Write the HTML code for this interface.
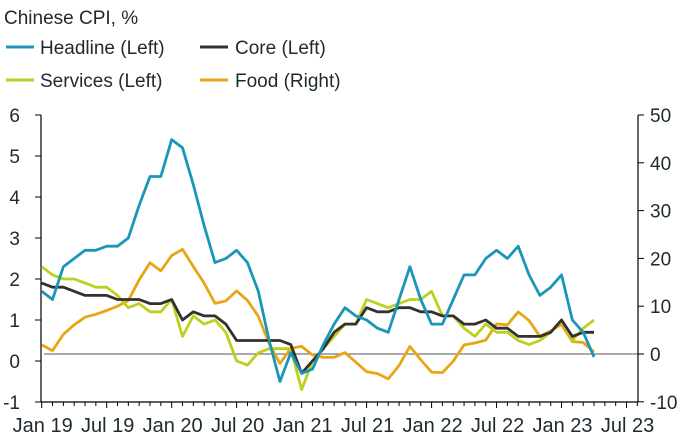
<!DOCTYPE html>
<html><head><meta charset="utf-8"><style>
body{margin:0;background:#fff;font-family:"Liberation Sans",sans-serif;}
svg text{font-family:"Liberation Sans",sans-serif;fill:#1e2a2e;}
</style></head><body>
<svg id="chart" width="691" height="438">
<text x="4" y="24" font-size="19">Chinese CPI, %</text>
<g>
<g><line x1="6" y1="47" x2="34" y2="47" stroke="#1a96b8" stroke-width="3"/><text x="40" y="54" font-size="19">Headline (Left)</text></g>
<g><line x1="200" y1="47" x2="228" y2="47" stroke="#33302e" stroke-width="3"/><text x="235" y="54" font-size="19">Core (Left)</text></g>
<g><line x1="6" y1="80" x2="34" y2="80" stroke="#bfcf1e" stroke-width="3"/><text x="40" y="87" font-size="19">Services (Left)</text></g>
<g><line x1="200" y1="80" x2="228" y2="80" stroke="#e8a614" stroke-width="3"/><text x="235" y="87" font-size="19">Food (Right)</text></g>
</g>
<g id="axes"></g>
<g id="series"></g>
</svg>
<script>
const xLabels=["Jan 19","Jul 19","Jan 20","Jul 20","Jan 21","Jul 21","Jan 22","Jul 22","Jan 23","Jul 23"];
const leftTicks=[6,5,4,3,2,1,0,-1];
const rightTicks=[50,40,30,20,10,0,-10];
const headline=[1.7,1.5,2.3,2.5,2.7,2.7,2.8,2.8,3.0,3.8,4.5,4.5,5.4,5.2,4.3,3.3,2.4,2.5,2.7,2.4,1.7,0.5,-0.5,0.2,-0.3,-0.2,0.4,0.9,1.3,1.1,1.0,0.8,0.7,1.5,2.3,1.5,0.9,0.9,1.5,2.1,2.1,2.5,2.7,2.5,2.8,2.1,1.6,1.8,2.1,1.0,0.7,0.1];
const core=[1.9,1.8,1.8,1.7,1.6,1.6,1.6,1.5,1.5,1.5,1.4,1.4,1.5,1.0,1.2,1.1,1.1,0.9,0.5,0.5,0.5,0.5,0.5,0.4,-0.3,0.0,0.3,0.7,0.9,0.9,1.3,1.2,1.2,1.3,1.3,1.2,1.2,1.1,1.1,0.9,0.9,1.0,0.8,0.8,0.6,0.6,0.6,0.7,1.0,0.6,0.7,0.7];
const services=[2.3,2.1,2.0,2.0,1.9,1.8,1.8,1.6,1.3,1.4,1.2,1.2,1.5,0.6,1.1,0.9,1.0,0.7,0.0,-0.1,0.2,0.3,0.3,0.3,-0.7,0.0,0.3,0.6,0.9,0.9,1.5,1.4,1.3,1.4,1.5,1.5,1.7,1.1,1.1,0.8,0.6,0.9,0.7,0.7,0.5,0.4,0.5,0.7,1.0,0.5,0.8,1.0];
const food=[1.9,0.7,4.1,6.1,7.7,8.3,9.1,10.0,11.2,15.5,19.1,17.4,20.6,21.9,18.3,14.8,10.6,11.1,13.2,11.2,7.9,2.2,-2.0,1.2,1.6,-0.2,-0.7,-0.7,0.3,-1.7,-3.7,-4.1,-5.2,-2.4,1.6,-1.2,-3.8,-3.9,-1.5,1.9,2.3,2.9,6.3,6.1,8.8,7.0,3.7,4.8,6.2,2.6,2.4,0.4];
const NS="http://www.w3.org/2000/svg";
const X0=41.7, PXM=10.83;
const x=m=>X0+m*PXM;
const yL=v=>361-v*41;
const yR=v=>354-v*4.78;
function mk(tag,attrs,parent){const e=document.createElementNS(NS,tag);for(const k in attrs)e.setAttribute(k,attrs[k]);parent.appendChild(e);return e;}
const axes=document.getElementById('axes');
const ser=document.getElementById('series');
const zl=mk('line',{x1:44,x2:638,y1:yR(0),y2:yR(0),stroke:'#555','stroke-width':1},axes);


const la=mk('line',{x1:41,x2:41,y1:yL(6),y2:yL(-1),stroke:'#000','stroke-width':1.2},axes);


leftTicks.forEach(v=>{
  mk('line',{x1:35,x2:41,y1:yL(v),y2:yL(v),stroke:'#000'},axes);
  const t=mk('text',{x:20,y:yL(v)+7,'font-size':19,'text-anchor':'end'},axes);t.textContent=v;
  
  
});
const ra=mk('line',{x1:638,x2:638,y1:yR(50),y2:yR(-10),stroke:'#000','stroke-width':1.2},axes);


rightTicks.forEach(v=>{
  mk('line',{x1:638,x2:644,y1:yR(v),y2:yR(v),stroke:'#000'},axes);
  const t=mk('text',{x:650,y:yR(v)+7,'font-size':19},axes);t.textContent=v;
  
  
});
const xa=mk('line',{x1:41,x2:638,y1:yL(-1),y2:yL(-1),stroke:'#000','stroke-width':1.2},axes);


for(let m=0;m<=55;m++){const xx=x(m);if(xx>639)break;mk('line',{x1:xx,x2:xx,y1:yL(-1),y2:yL(-1)+(m%6===0?6:4),stroke:'#000'},axes);}
xLabels.forEach((l,i)=>{
  const t=mk('text',{x:x(i*6)+1,y:432,'font-size':20,'text-anchor':'middle'},axes);t.textContent=l;
  
  
});
function line(data,yf,color,name){
  const p=mk('polyline',{points:data.map((v,i)=>x(i)+','+yf(v)).join(' '),fill:'none',stroke:color,'stroke-width':2.8,'stroke-linejoin':'round'},ser);
  
  
}
line(food,yR,'#e8a614','food-line');
line(services,yL,'#bfcf1e','services-line');
line(core,yL,'#33302e','core-line');
line(headline,yL,'#1a96b8','headline-line');
</script>
</body></html>
